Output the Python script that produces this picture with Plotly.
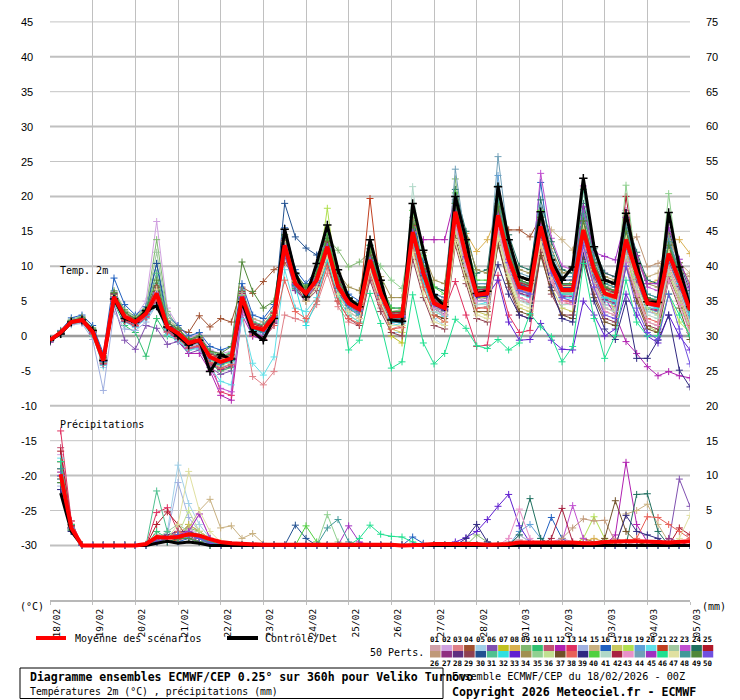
import plotly.graph_objects as go
import pandas as pd

# ---------------- data ----------------
DATE_LABELS_START = "2026-02-18 00:00"
DATE_END = "2026-03-05 00:00"

MEMBER_COLORS = [
    "#d0a0a8", "#d0a0e0", "#e08088", "#a05030", "#a0d0e8", "#8050b0", "#c0c020", "#d8b050", "#80b870", "#30c070",
    "#c05070", "#b020b0", "#e03060", "#a0b0e0", "#c8b080", "#2060c0", "#c8c860", "#b0e050", "#60a0d8", "#60e0e8",
    "#c04020", "#a0c8a0", "#c050d0", "#207060", "#b01828", "#c09878", "#903080", "#603080", "#904050", "#205090",
    "#50c090", "#30e0e0", "#6020d0", "#a09050", "#90d090", "#c0e090", "#705028", "#e86058", "#302880", "#50d040",
    "#b0d8c8", "#a82040", "#e890c8", "#70a0b8", "#a030c0", "#20e090", "#e0e0a0", "#409898", "#508838", "#7050e0",
]

TEMP_MEAN = [-0.6, 0.5, 2.0, 2.3, 0.6, -3.5, 5.6, 2.8, 2.0, 3.2, 6.1, 1.3,
             0.4, -1.0, -0.6, -3.0, -3.7, -3.2, 5.6, 1.3, 0.9, 2.8, 13.0, 7.5,
             6.1, 8.0, 12.8, 7.1, 4.7, 3.8, 10.9, 6.1, 2.8, 2.9, 14.9, 9.0,
             4.7, 4.0, 17.8, 11.4, 5.9, 6.1, 17.3, 11.0, 7.0, 6.6, 15.7, 9.9,
             6.6, 6.6, 15.2, 9.5, 6.1, 5.6, 13.8, 9.0, 4.7, 4.4, 11.8, 8.0, 3.7]
TEMP_CTRL = [-0.6, 0.3, 2.0, 2.3, 0.8, -3.5, 5.3, 2.5, 2.0, 3.6, 4.3, 1.3,
             0.0, -1.3, -0.6, -5.1, -2.7, -3.3, 4.9, 0.6, -0.6, 2.5, 15.3, 9.0,
             5.6, 10.4, 15.9, 9.5, 5.4, 4.2, 13.8, 8.0, 2.3, 2.1, 19.0, 12.3,
             5.9, 4.2, 20.0, 13.8, 6.1, 6.4, 21.4, 13.8, 8.5, 8.0, 17.8, 10.9,
             8.0, 9.9, 22.6, 12.8, 8.0, 7.5, 17.6, 10.4, 4.9, 4.8, 17.7, 9.9, 4.2]

T01 = [-0.8, 0.4, 2.1, 2.5, 0.8, -3.0, 5.9, 3.0, 2.2, 3.5, 6.8, 1.5,
       0.2, -1.2, -0.4, -2.6, -3.1, -2.5, 6.2, 1.8, 1.2, 3.4, 14.2, 8.2,
       6.5, 8.4, 13.5, 7.6, 5.0, 4.1, 11.8, 6.6, 3.0, 3.2, 16.0, 9.6,
       5.2, 4.3, 18.9, 12.0, 6.2, 6.4, 18.5, 11.8, 7.5, 7.0, 17.0, 10.5,
       7.0, 7.2, 16.0, 10.2, 6.8, 6.0, 15.0, 9.8, 5.2, 4.8, 12.8, 8.6, 4.5]
T02 = [-0.5, 0.6, 2.3, 2.6, 1.0, -2.8, 6.4, 3.6, 2.8, 5.0, 16.4, 4.0,
       1.5, -0.2, 0.3, -2.0, -2.5, -2.2, 6.8, 2.4, 2.0, 4.0, 12.0, 6.8,
       5.5, 7.2, 11.5, 6.5, 4.0, 3.2, 9.8, 5.4, 2.0, 2.2, 13.5, 8.0,
       4.0, 3.5, 16.5, 10.2, 5.0, 5.5, 16.0, 10.0, 6.2, 5.8, 14.5, 9.0,
       5.8, 6.0, 14.0, 8.8, 5.5, 5.0, 12.5, 8.2, 4.0, 3.8, 10.5, 7.2, 3.0]
T03 = [-0.7, 0.5, 2.0, 2.2, 0.4, -4.0, 5.2, 2.5, 1.8, 3.0, 5.5, 0.8,
       -0.2, -1.8, -1.5, -4.0, -5.0, -4.5, 3.5, -5.8, -7.0, -5.1, 3.0, 2.5,
       2.0, 4.5, 9.0, 4.2, 2.0, 1.5, 8.5, 4.0, 1.0, 1.5, 12.5, 7.0,
       3.0, 2.5, 15.5, 9.5, 4.0, 4.2, 15.0, 9.2, 5.0, 4.8, 14.0, 8.5,
       4.5, 4.8, 13.5, 8.0, 4.5, 4.2, 12.0, 7.8, 3.5, 3.2, 10.0, 6.5, 2.0]
T04 = [-0.6, 0.5, 2.2, 2.4, 0.7, -3.2, 5.8, 3.2, 2.5, 3.8, 7.0, 2.0,
       1.0, 0.5, 2.9, 1.3, 2.5, 2.0, 7.0, 6.1, 7.8, 9.5, 10.5, 8.5,
       7.0, 8.5, 12.0, 7.5, 5.5, 4.5, 11.0, 6.5, 3.5, 3.5, 15.5, 9.5,
       5.0, 4.5, 18.0, 11.5, 6.5, 6.5, 17.5, 15.2, 15.2, 14.2, 17.0, 10.0,
       6.5, 6.5, 15.0, 9.5, 6.0, 5.5, 13.5, 9.5, 5.5, 5.0, 12.0, 8.5, 4.0]
T05 = [-0.9, 0.3, 1.8, 2.0, 0.2, -4.5, 5.0, 2.2, 1.5, 2.8, 5.8, 1.0,
       0.0, -1.5, -1.0, -3.5, -4.5, -4.0, 5.0, 0.8, 0.0, 2.0, 12.0, 7.0,
       5.5, 7.5, 12.5, 6.8, 4.2, 3.0, 10.0, 5.5, 0.5, 0.5, 13.0, 8.0,
       2.5, 1.5, 16.0, 10.5, 5.0, 5.0, 16.5, 10.0, 5.5, 4.5, 14.5, 9.0,
       5.0, 5.5, 14.5, 8.5, 4.5, 4.0, 12.5, 8.0, 3.5, 3.0, 11.0, 7.0, 2.5]
T06 = [-0.5, 0.5, 1.9, 2.1, 0.3, -3.8, 4.5, -0.6, -1.9, 1.5, 1.1, -1.2,
       -0.8, -2.5, -2.0, -4.5, -5.5, -5.0, 4.0, 0.0, -0.5, 1.5, 11.5, 6.5,
       5.0, 7.0, 12.0, 6.0, 3.5, 2.5, 10.5, 5.8, 2.0, 2.5, 14.5, 8.5,
       4.0, 3.0, 17.5, 11.0, 5.5, 5.5, 17.0, 10.5, 6.5, 6.0, 15.5, 9.5,
       6.0, 6.0, 15.0, 9.0, 5.5, 5.0, 13.5, 9.0, 4.5, 4.0, 11.5, 7.5, 3.5]
T07 = [-0.6, 0.6, 2.0, 2.4, 0.6, -3.3, 5.5, 2.8, 2.0, 3.3, 6.5, 1.5,
       0.5, -0.8, -0.5, -2.8, -3.5, -3.0, 5.5, 1.5, 1.0, 3.0, 13.5, 7.8,
       6.2, 8.2, 13.2, 7.4, 4.8, 3.8, 11.2, 6.2, 0.0, -1.0, 14.0, 8.5,
       4.0, 3.0, 17.0, 10.8, 5.5, 5.8, 17.2, 11.0, 7.0, 6.5, 15.5, 9.8,
       6.5, 6.5, 15.0, 9.5, 6.0, 5.5, 14.0, 9.0, 4.8, 4.5, 11.8, 8.0, 3.8]
T08 = [-0.7, 0.4, 2.1, 2.3, 0.5, -3.6, 5.6, 2.7, 2.1, 3.1, 6.0, 1.2,
       0.3, -1.0, -0.7, -3.1, -3.8, -3.4, 5.5, 1.2, 0.8, 2.7, 13.2, 7.6,
       6.0, 8.0, 12.6, 7.0, 4.6, 3.8, 10.8, 6.0, 2.8, 3.0, 15.2, 9.2,
       4.8, 4.2, 18.0, 14.7, 12.1, 13.8, 17.6, 11.2, 7.2, 6.8, 16.0, 10.2,
       6.8, 8.0, 16.5, 10.5, 7.0, 7.5, 15.5, 11.0, 7.5, 8.0, 14.0, 13.8, 11.8]
T09 = [-0.4, 0.7, 2.4, 2.8, 1.2, -2.8, 6.5, 3.8, 2.8, 4.0, 13.8, 3.5,
       1.2, -0.5, 0.0, -2.2, -2.8, -2.4, 6.5, 2.0, 1.5, 3.5, 14.5, 8.8,
       7.0, 9.0, 14.0, 12.3, 9.9, 10.6, 12.0, 7.0, 3.5, 3.5, 16.5, 10.0,
       5.5, 5.0, 22.5, 12.5, 7.0, 7.0, 19.0, 12.2, 8.0, 7.5, 17.5, 11.0,
       7.5, 7.5, 17.0, 10.5, 7.0, 6.5, 15.5, 10.0, 5.5, 5.0, 13.5, 9.0, 5.0]
T10 = [-0.8, 0.2, 1.7, 2.0, 0.0, -4.2, 4.8, 1.5, 0.5, -2.9, 2.5, 0.0,
       -0.5, -2.0, -1.5, -4.0, -5.0, -4.5, 4.5, 0.5, 0.0, 2.0, 12.0, 6.8,
       5.5, 7.5, 12.0, 6.5, 4.0, 3.0, 10.0, 5.5, 2.0, 2.0, 14.0, 8.5,
       4.2, 3.5, 17.0, 11.0, 5.5, 5.5, 16.8, 10.8, 6.8, 6.2, 15.0, 9.5,
       6.2, 6.2, 14.8, 9.2, 5.8, 5.2, 13.5, 8.8, 4.5, 4.2, 11.5, 7.8, 3.5]
T11 = [-0.6, 0.5, 2.0, 2.3, 0.6, -3.4, 5.7, 2.9, 2.1, 3.3, 6.3, 1.4,
       0.5, -0.9, -0.5, -2.9, -3.6, -3.1, 5.8, 1.5, 1.0, 3.0, 13.2, 7.7,
       6.3, 8.2, 13.0, 7.3, 4.9, 4.0, 11.2, 6.3, 3.0, 3.1, 15.2, 9.2,
       4.9, 4.2, 18.0, 11.6, 6.1, 6.3, 17.5, 11.2, 7.2, 6.8, 15.9, 10.1,
       6.8, 6.8, 15.4, 9.7, 6.3, 5.8, 14.0, 9.2, 4.9, 4.6, 12.0, 8.2, 3.9]
T12 = [-0.9, 0.3, 1.8, 2.1, 0.3, -4.0, 5.0, 2.2, 1.5, 2.5, 5.0, 0.5,
       -0.5, -2.5, -2.5, -5.0, -8.5, -9.2, 3.0, 0.0, -0.5, 2.0, 12.5, 7.0,
       6.0, 8.0, 12.5, 7.0, 4.5, 3.5, 11.0, 6.0, 2.5, 2.5, 14.7, 13.8,
       13.8, 13.8, 20.0, 11.0, 5.5, 5.5, 17.0, 11.0, 6.5, 6.0, 15.0, 9.5,
       6.0, 6.0, 14.5, 9.0, 5.5, 3.0, -0.8, -2.5, -4.4, -5.7, -5.1, -5.7, -6.0]
T13 = [-0.7, 0.4, 1.9, 2.2, 0.5, -3.7, 5.3, 2.6, 1.8, 3.0, 5.8, 1.0,
       0.0, -1.3, -1.0, -3.5, -8.0, -8.5, 4.0, 1.0, 0.5, 2.5, 12.8, 7.2,
       5.8, 7.8, 12.5, 6.8, 4.4, 3.5, 10.5, 5.8, 2.5, 2.6, 14.5, 8.8,
       4.5, 3.8, 7.8, 3.0, -1.5, -1.3, 8.7, 3.0, 0.5, 0.8, 12.0, 7.5,
       5.0, 5.0, 13.0, 8.0, 5.0, 4.5, 12.5, 8.0, 4.0, 3.8, 10.5, 7.0, 3.0]
T14 = [-0.8, 0.2, 1.6, 1.8, -0.5, -7.8, 3.5, 1.0, 0.8, 2.0, 4.5, 0.5,
       -0.2, -1.5, -1.2, -3.6, -4.5, -4.0, 4.8, 0.8, 0.2, 2.2, 12.2, 7.0,
       5.8, 7.6, 12.2, 6.6, 4.2, 3.2, 10.2, 5.6, 2.2, 2.2, 14.0, 8.4,
       4.2, 3.6, 17.2, 10.8, 5.4, 5.6, 16.8, 10.6, 6.6, 6.2, 15.2, 9.4,
       6.2, 6.0, 14.6, 9.0, 5.6, 5.2, 13.2, 8.6, 4.4, 4.0, 11.2, 7.6, 3.4]
T15 = [-0.5, 0.6, 2.1, 2.4, 0.8, -3.0, 6.0, 3.2, 2.5, 3.8, 9.0, 2.5,
       1.0, -0.5, 0.0, -2.5, -3.0, -2.5, 6.5, 2.5, 2.0, 4.0, 14.0, 8.5,
       7.0, 9.0, 13.8, 8.0, 5.5, 4.5, 12.0, 7.0, 3.5, 3.8, 16.0, 10.0,
       5.5, 5.0, 19.0, 12.5, 7.0, 7.0, 18.5, 12.0, 8.0, 7.5, 17.0, 15.2,
       13.8, 12.3, 16.5, 10.5, 7.0, 7.0, 15.0, 10.5, 8.5, 9.0, 14.0, 10.5, 9.0]
T16 = [-0.4, 0.8, 2.6, 3.0, 1.5, -2.5, 8.3, 4.5, 3.0, 4.2, 10.4, 3.0,
       1.5, 0.0, 0.5, -1.5, -2.0, -1.5, 7.5, 3.0, 2.5, 4.5, 15.5, 9.5,
       7.5, 9.5, 14.5, 8.5, 6.0, 5.0, 13.0, 7.5, 4.0, 4.0, 17.0, 10.5,
       6.0, 5.5, 19.5, 12.5, 7.5, 7.5, 19.0, 12.5, 8.5, 8.0, 22.0, 11.0,
       7.5, 7.5, 16.5, 10.5, 7.0, 6.5, 15.0, 10.0, 5.5, 5.0, 13.0, 9.0, 5.0]
T17 = [-0.6, 0.5, 2.0, 2.3, 0.6, -3.5, 5.6, 2.8, 2.0, 3.2, 6.1, 1.3,
       0.4, -1.0, -0.6, -3.0, -3.7, -3.2, 5.6, 1.3, 0.9, 2.8, 13.0, 7.5,
       5.0, 7.0, 11.0, 5.5, 3.0, 2.0, 9.0, 4.5, 1.0, 0.5, 12.5, 7.0,
       3.0, 2.0, 15.0, 9.0, 3.5, 3.0, 14.5, 8.0, 4.0, 3.5, 13.0, 7.0,
       4.0, 3.5, 12.5, 7.0, 3.5, 3.0, 11.5, 6.5, 2.0, 1.5, 9.0, 5.5, 1.0]
T18 = [-0.7, 0.4, 1.9, 2.2, 0.4, -3.8, 5.2, 2.4, 1.8, 2.9, 5.6, 1.0,
       0.2, -1.2, -0.9, -3.4, -4.2, -3.7, 5.0, 1.0, 0.5, 2.4, 12.5, 7.0,
       5.8, 7.6, 18.3, 6.7, 4.3, 3.4, 10.4, 5.7, 2.4, 2.5, 14.3, 8.5,
       4.3, 3.6, 17.0, 10.8, 5.4, 5.6, 16.7, 10.5, 6.5, 6.0, 15.0, 9.3,
       6.0, 6.0, 14.5, 9.0, 7.5, 3.0, 12.0, 5.5, 1.5, 0.5, 6.0, 2.0, 0.5]
T19 = [-0.6, 0.6, 2.2, 2.5, 0.9, -3.0, 6.0, 3.1, 2.3, 3.6, 7.5, 1.8,
       0.7, -0.7, -0.3, -2.6, -3.2, -2.8, 6.2, 1.8, 1.4, 3.3, 13.8, 8.0,
       6.6, 8.5, 13.4, 7.6, 5.1, 4.2, 11.6, 6.6, 3.2, 3.3, 15.6, 9.6,
       5.2, 4.5, 18.5, 12.0, 6.5, 6.6, 23.0, 11.6, 7.5, 7.0, 16.4, 10.4,
       7.0, 7.0, 15.8, 10.0, 6.5, 6.0, 14.5, 9.5, 5.2, 4.8, 12.5, 8.5, 4.2]
T20 = [-0.8, 0.3, 1.8, 2.0, 0.2, -4.2, 4.8, 2.0, 1.2, 2.5, 4.5, 0.2,
       -0.6, -2.0, -1.8, -4.5, -6.5, -7.0, 2.5, -3.9, -5.6, -3.0, 9.5, 4.0,
       3.5, 5.5, 10.5, 5.5, 3.0, 2.0, 9.0, 4.5, 1.5, 1.8, 13.0, 7.5,
       3.5, 2.8, 16.0, 10.0, 4.5, 4.8, 16.0, 10.0, 6.0, 5.5, 14.5, 9.0,
       5.5, 5.5, 14.0, 8.5, 5.0, 4.5, 12.5, 8.0, 3.8, 3.5, 10.5, 7.0, 2.5]
T21 = [-0.5, 0.6, 2.1, 2.4, 0.7, -3.3, 5.8, 3.0, 2.2, 3.4, 6.6, 1.6,
       0.6, -0.8, -0.4, -2.8, -3.4, -2.9, 6.0, 1.6, 1.2, 3.1, 13.6, 7.9,
       6.4, 8.4, 13.5, 7.6, 5.0, 4.1, 19.7, 6.5, 3.1, 3.2, 15.5, 9.5,
       5.0, 4.3, 18.4, 11.9, 6.3, 6.4, 18.0, 11.5, 7.4, 7.0, 16.3, 10.3,
       7.0, 7.0, 15.8, 10.0, 6.4, 6.0, 14.5, 9.5, 5.0, 4.6, 12.4, 8.5, 4.0]
T22 = [-0.5, 0.7, 2.3, 2.7, 1.1, -2.9, 6.3, 3.6, 2.7, 3.9, 12.0, 3.0,
       1.0, -0.6, -0.1, -2.3, -3.0, -2.5, 6.3, 2.0, 1.6, 3.6, 14.3, 8.6,
       6.8, 8.8, 13.8, 7.9, 5.4, 4.4, 11.8, 6.8, 3.3, 3.4, 16.2, 9.8,
       5.4, 4.8, 19.2, 12.3, 6.8, 6.8, 18.8, 12.0, 7.8, 7.4, 17.2, 10.8,
       7.3, 7.3, 16.8, 10.3, 6.8, 6.4, 15.2, 9.9, 5.4, 5.0, 13.2, 9.0, 4.8]
T23 = [-0.7, 0.4, 1.9, 2.1, 0.4, -3.9, 5.1, 2.3, 1.6, 2.8, 5.4, 0.7,
       -0.2, -1.8, -1.6, -4.5, -7.5, -8.0, 4.0, 0.5, 0.0, 2.2, 12.4, 7.0,
       5.6, 7.5, 12.2, 6.6, 4.2, 3.3, 10.3, 5.6, 2.3, 2.4, 14.2, 8.5,
       4.3, 3.6, 17.2, 11.0, 5.6, 5.7, 17.0, 10.6, 6.6, 6.2, 23.3, 14.0,
       10.0, 9.5, 21.5, 12.0, 9.0, 8.5, 18.0, 11.5, 7.0, 6.5, 15.0, 10.0, 6.0]
T24 = [-0.6, 0.5, 2.0, 2.3, 0.6, -3.4, 5.6, 2.9, 2.0, 3.3, 6.4, 1.4,
       0.5, -0.9, -0.5, -2.9, -3.6, -3.1, 5.8, 1.4, 1.0, 2.9, 13.2, 7.7,
       6.2, 8.2, 13.0, 7.2, 4.8, 3.9, 11.1, 6.2, 2.9, 3.0, 15.1, 9.1,
       7.0, 6.5, 21.0, 15.0, 9.0, 9.5, 21.5, 14.5, 10.0, 9.5, 19.5, 13.5,
       9.5, 9.0, 19.0, 12.5, 9.0, 8.5, 17.0, 12.0, 8.0, 7.5, 15.0, 10.5, 6.5]
T25 = [-0.5, 0.6, 2.2, 2.5, 0.9, -3.1, 6.1, 3.3, 2.4, 3.6, 7.2, 1.8,
       0.8, -0.6, -0.2, -2.5, -3.0, -2.6, 6.4, 1.9, 1.5, 3.4, 14.0, 8.3,
       6.7, 8.6, 13.7, 7.8, 5.2, 4.3, 11.9, 6.8, 3.4, 3.5, 16.2, 9.9,
       5.4, 4.7, 19.0, 12.2, 6.7, 6.8, 18.7, 11.9, 7.7, 7.3, 17.0, 10.8,
       7.3, 7.4, 16.4, 10.4, 6.9, 6.4, 20.0, 9.9, 5.4, 5.1, 13.1, 9.0, 4.6]
T26 = [-0.7, 0.4, 1.9, 2.2, 0.5, -3.6, 5.4, 2.7, 1.9, 3.1, 5.9, 1.2,
       0.3, -1.1, -0.7, -3.1, -3.9, -3.4, 5.4, 1.1, 0.7, 2.6, 12.7, 7.3,
       5.9, 7.8, 12.5, 6.9, 4.5, 3.6, 10.6, 5.9, 2.6, 2.7, 14.6, 8.8,
       4.5, 3.8, 17.4, 11.1, 5.7, 5.8, 16.9, 10.7, 6.7, 6.3, 15.3, 9.6,
       6.3, 6.3, 14.8, 9.2, 5.8, 5.3, 13.4, 14.2, 9.9, 10.4, 11.5, 9.5, 8.5]
T27 = [-0.8, 0.3, 1.8, 2.0, 0.3, -4.0, 5.0, 2.1, 1.4, 2.7, 5.2, 0.6,
       -0.3, -1.7, -1.4, -3.9, -4.8, -4.3, 4.6, 0.4, -0.1, 1.8, 12.0, 6.6,
       5.3, 7.2, 11.8, 6.3, 3.9, 3.0, 9.8, 5.2, 1.9, 2.0, 13.6, 8.0,
       3.9, 3.1, 16.6, 10.4, 5.0, 5.1, 16.2, 10.1, 6.1, 5.7, 14.6, 8.9,
       5.7, 5.7, 14.2, 8.6, 5.2, 4.7, 12.8, 8.1, 3.9, 3.6, 10.8, 7.1, 2.9]
T28 = [-0.6, 0.5, 2.1, 2.4, 0.7, -3.3, 5.8, 3.0, 2.1, 3.4, 6.6, 1.5,
       0.5, -0.9, -0.4, -2.8, -3.5, -3.0, 5.9, 1.5, 1.1, 3.0, 13.4, 7.8,
       6.3, 8.3, 13.2, 7.4, 4.9, 4.0, 11.3, 6.4, 3.0, 3.1, 15.4, 9.3,
       5.0, 4.2, 18.3, 11.8, 6.2, 6.4, 17.8, 11.3, 7.3, 6.9, 16.2, 10.2,
       6.9, 6.9, 15.6, 9.8, 6.3, 5.8, 14.2, 9.3, 5.0, 4.6, 12.2, 8.3, 4.0]
T29 = [-0.6, 0.5, 2.0, 2.3, 0.6, -3.5, 5.5, 2.8, 2.0, 3.2, 6.0, 1.3,
       0.4, -1.0, -0.6, -3.0, -3.8, -3.3, 5.5, 1.2, 0.8, 2.8, 12.8, 7.4,
       5.0, 6.5, 10.5, 5.0, 2.5, 1.5, 8.0, 3.5, 0.5, 0.0, 11.0, 5.5,
       1.5, 1.0, 13.0, 7.5, 2.5, 2.0, 13.5, 7.0, 3.0, 2.5, 12.0, 6.0,
       3.0, 3.0, 11.0, 6.0, 2.5, 2.0, 10.5, 5.5, 1.5, 1.0, 8.5, 5.0, 0.5]
T30 = [-0.6, 0.5, 2.1, 2.4, 0.7, -3.3, 6.0, 3.0, 2.2, 3.5, 10.4, 2.0,
       0.6, -0.8, -0.4, -2.7, -3.3, -2.9, 6.0, 1.6, 1.2, 3.1, 19.0, 14.2,
       12.6, 11.6, 14.0, 8.0, 5.5, 4.5, 12.5, 7.0, 3.5, 3.5, 16.5, 10.0,
       5.5, 5.0, 19.0, 12.0, 6.5, 6.5, 18.5, 11.5, 7.5, 7.0, 16.5, 10.5,
       7.0, 7.0, 16.0, 10.0, 6.5, 6.0, 14.5, 9.5, 5.0, 4.5, 12.5, 8.5, 4.0]
T31 = [-0.5, 0.6, 2.2, 2.5, 0.9, -3.1, 6.2, 3.4, 2.5, 3.7, 9.0, 2.2,
       0.9, -0.5, -0.1, -2.4, -2.9, -2.5, 6.5, 2.0, 1.6, 3.5, 14.2, 8.5,
       6.8, 8.7, 13.8, 7.9, 5.3, 4.4, 12.0, 6.9, 3.5, 3.6, 16.3, 10.0,
       5.5, 4.8, 19.2, 12.3, 6.8, 6.9, 18.8, 12.0, 7.8, 7.4, 17.2, 10.9,
       7.4, 7.4, 21.0, 10.5, 7.0, 6.5, 15.2, 10.0, 5.5, 5.2, 13.2, 9.1, 4.7]
T32 = [-0.7, 0.4, 1.9, 2.2, 0.5, -3.7, 5.3, 2.5, 1.8, 3.0, 5.6, 1.0,
       0.1, -1.3, -0.9, -3.3, -4.1, -3.6, 5.2, 0.9, 0.5, 2.5, 12.6, 7.1,
       1.5, 5.0, 11.0, 6.0, 4.0, 3.0, 10.0, 5.5, 2.0, 2.0, 13.5, 8.0,
       4.0, 3.0, 16.5, 10.5, 5.0, 5.0, 16.5, 10.5, 6.5, 6.0, 15.0, 9.0,
       6.0, 6.0, 14.5, 9.0, 5.5, 5.0, 13.0, 8.5, 4.0, 4.0, 11.0, 7.5, 3.0]
T33 = [-0.6, 0.5, 2.0, 2.3, 0.6, -3.5, 5.6, 2.8, 2.0, 3.2, 6.1, 1.3,
       0.3, -1.1, -0.7, -3.1, -3.8, -3.3, 5.4, 1.1, 0.7, 2.6, 12.8, 7.3,
       5.9, 7.8, 12.5, 6.9, 4.5, 3.6, 10.6, 5.9, 2.6, 2.7, 14.6, 8.8,
       4.5, 3.8, 17.4, 11.1, 5.7, 5.8, 8.0, 2.0, -0.6, -0.5, 1.8, -0.6,
       -1.9, -2.0, 5.0, 3.0, 0.0, 1.0, 6.0, 3.0, 0.0, -1.0, 3.0, 0.0, -2.0]
T34 = [-0.7, 0.4, 2.0, 2.2, 0.5, -3.6, 5.5, 2.7, 1.9, 3.1, 6.0, 1.2,
       0.3, -1.1, -0.7, -3.1, -3.8, -3.3, 5.5, 1.2, 0.8, 2.7, 12.9, 7.4,
       6.5, 8.5, 13.5, 9.0, 7.0, 6.5, 12.5, 8.5, 5.5, 5.5, 17.0, 12.0,
       8.0, 7.5, 19.5, 14.0, 9.5, 9.0, 19.0, 13.0, 9.5, 9.0, 18.0, 12.5,
       9.0, 9.5, 17.5, 12.0, 8.5, 8.0, 16.0, 11.5, 7.5, 7.0, 14.5, 10.5, 7.5]
T35 = [-0.5, 0.6, 2.1, 2.4, 0.8, -3.2, 5.9, 3.1, 2.3, 3.5, 7.0, 1.7,
       0.7, -0.7, -0.3, -2.6, -3.2, -2.7, 6.1, 1.7, 1.3, 3.2, 13.7, 8.1,
       6.5, 8.5, 13.5, 7.7, 5.2, 4.3, 12.0, 10.0, 8.0, 6.8, 15.8, 9.7,
       5.2, 4.5, 18.5, 12.0, 6.5, 6.6, 18.2, 11.6, 7.6, 7.1, 16.5, 10.4,
       7.1, 7.1, 16.0, 10.0, 6.6, 6.1, 21.6, 9.6, 5.2, 4.9, 20.4, 8.6, 4.3]
T36 = [-0.6, 0.5, 2.0, 2.3, 0.6, -3.4, 5.6, 2.8, 2.0, 3.2, 6.2, 1.3,
       0.4, -1.0, -0.6, -3.0, -3.7, -3.2, 5.6, 1.3, 0.9, 2.8, 13.0, 7.5,
       6.1, 8.0, 12.8, 7.1, 4.7, 3.8, 10.9, 6.1, 2.8, 2.9, 14.9, 9.0,
       4.7, 4.0, 17.8, 11.4, 5.9, 6.1, 17.3, 11.0, 7.0, 6.6, 15.7, 9.9,
       6.6, 6.6, 15.2, 9.5, 6.1, 5.6, 13.8, 7.0, 4.0, 3.0, 9.0, 5.0, 1.0]
T37 = [-0.6, 0.5, 2.1, 2.3, 0.7, -3.4, 5.7, 2.9, 2.1, 3.3, 6.3, 1.4,
       0.5, -0.9, -0.5, -2.9, -3.6, -3.1, 5.7, 1.4, 1.0, 2.9, 13.1, 7.6,
       6.2, 8.1, 12.9, 7.2, 4.8, 3.9, 11.0, 6.2, 2.9, 3.0, 15.0, 9.1,
       3.0, 2.5, 14.0, 8.5, 3.5, 3.5, 13.0, 7.5, 3.5, 3.0, 11.5, 6.5,
       3.0, 2.5, 11.0, 5.5, 2.0, 1.5, 10.0, 5.0, 1.0, 0.5, 8.0, 4.0, -0.5]
T38 = [-0.8, 0.3, 1.8, 2.1, 0.3, -3.9, 5.0, 2.2, 1.5, 2.7, 5.2, 0.6,
       -0.3, -1.7, -1.4, -3.8, -4.6, -4.1, 4.5, 0.2, -0.4, 1.5, 8.0, 3.5,
       2.5, 5.0, 10.0, 5.0, 2.5, 1.8, 9.0, 4.5, 1.0, 1.2, 13.0, 7.0,
       3.0, 2.0, 16.0, 9.5, 4.0, 4.0, 15.5, 9.5, 5.5, 5.0, 13.5, 8.0,
       5.0, 5.0, 13.0, 7.5, 4.0, 3.5, 11.5, 7.0, 2.5, 2.0, 9.5, 6.0, 1.5]
T39 = [-0.7, 0.4, 1.9, 2.2, 0.5, -3.6, 5.4, 2.7, 1.9, 3.1, 5.9, 1.1,
       0.2, -1.2, -0.8, -3.2, -4.0, -3.5, 5.3, 1.0, 0.6, 2.6, 12.7, 7.2,
       5.8, 7.7, 12.4, 6.8, 4.4, 3.5, 10.5, 5.8, 2.5, 2.6, 14.5, 8.7,
       4.4, 3.7, 17.3, 11.0, 5.6, 5.7, 10.2, 6.0, 3.0, 2.5, 14.0, 7.0,
       2.5, 2.0, 12.0, 5.0, 1.0, -0.5, 5.0, -3.2, -3.2, -0.6, 3.0, -4.9, -7.3]
T40 = [-0.6, 0.5, 2.0, 2.4, 0.7, -3.3, 5.7, 2.9, 2.1, 3.3, 6.5, 1.4,
       0.5, -0.9, -0.5, -2.9, -3.5, -3.0, 5.8, 1.5, 1.1, 3.0, 13.3, 7.8,
       7.0, 9.0, 14.5, 8.0, 5.5, 4.5, 13.0, 7.5, 4.0, 4.0, 18.0, 11.5,
       7.0, 6.0, 20.5, 13.5, 8.0, 8.0, 20.0, 13.0, 8.5, 8.0, 18.0, 11.5,
       6.8, 6.8, 15.5, 9.7, 6.3, 5.8, 14.1, 9.2, 4.9, 4.6, 12.1, 8.2, 3.9]
T41 = [-0.7, 0.4, 1.9, 2.2, 0.5, -3.6, 5.5, 2.7, 1.9, 3.1, 6.0, 1.2,
       0.3, -1.1, -0.7, -3.1, -3.8, -3.3, 5.5, 1.2, 0.8, 2.7, 12.8, 7.4,
       6.0, 7.9, 12.7, 7.0, 4.6, 3.7, 10.8, 6.0, 2.7, 2.8, 21.4, 8.9,
       3.5, 3.0, 15.5, 9.5, 4.5, 4.5, 15.0, 9.0, 5.0, 4.5, 13.5, 8.0,
       4.5, 4.5, 13.0, 7.5, 4.0, 3.5, 11.5, 7.0, 3.0, 2.5, 9.5, 6.0, 2.0]
T42 = [-0.5, 0.6, 2.1, 2.5, 0.8, -3.2, 6.0, 3.1, 2.3, 3.5, 7.0, 1.7,
       0.7, -0.7, -0.3, -2.6, -3.2, -2.7, 6.1, 1.7, 1.3, 3.2, 13.7, 8.1,
       6.5, 8.5, 13.5, 7.7, 5.2, 4.3, 11.6, 6.7, 3.3, 3.4, 15.8, 9.7,
       5.2, 4.5, 18.6, 12.0, 6.6, 6.7, 18.2, 11.6, 7.6, 7.2, 16.6, 10.5,
       7.2, 7.2, 16.0, 10.1, 6.7, 6.2, 14.7, 9.7, 5.3, 4.9, 12.7, 8.7, 4.4]
T43 = [-0.6, 0.5, 2.0, 2.3, 0.6, -3.5, 5.6, 2.8, 2.0, 3.2, 6.1, 1.3,
       0.4, -1.0, -0.6, -3.0, -3.7, -3.2, 5.6, 1.3, 0.9, 2.8, 13.0, 7.5,
       6.1, 8.0, 12.8, 7.1, 4.7, 3.8, 10.9, 6.1, 2.8, 2.9, 14.9, 9.0,
       4.0, 3.0, 16.0, 10.0, 5.0, 5.0, 15.5, 9.5, 5.5, 5.0, 13.5, 8.0,
       5.0, 4.5, 12.5, 7.0, 3.5, 3.0, 10.5, 6.0, 2.0, 1.5, 8.0, 4.5, 0.5]
T44 = [-0.7, 0.4, 2.0, 2.2, 0.5, -3.6, 5.5, 2.7, 1.9, 3.1, 6.0, 1.2,
       0.3, -1.1, -0.7, -3.1, -3.8, -3.3, 5.5, 1.2, 0.8, 2.7, 12.8, 7.4,
       6.0, 7.9, 12.7, 7.0, 4.6, 3.7, 10.8, 6.0, 2.7, 2.8, 14.8, 8.9,
       6.0, 5.5, 23.9, 13.0, 7.5, 7.5, 25.7, 13.5, 9.0, 8.5, 18.5, 12.0,
       8.5, 8.5, 18.0, 11.0, 7.5, 7.0, 16.0, 10.5, 6.0, 5.5, 14.0, 9.5, 5.0]
T45 = [-0.6, 0.5, 2.0, 2.3, 0.6, -3.4, 5.6, 2.8, 2.0, 3.2, 6.2, 1.3,
       0.4, -1.0, -0.6, -3.0, -3.7, -3.2, 5.6, 1.3, 0.9, 2.8, 13.0, 7.5,
       6.1, 8.0, 12.8, 7.1, 4.7, 3.8, 10.9, 6.1, 2.8, 2.9, 14.9, 9.0,
       4.7, 4.0, 17.8, 11.4, 5.9, 6.1, 17.3, 11.0, 7.0, 6.6, 15.7, 9.9,
       8.0, 8.0, 18.5, 12.0, 11.4, 10.9, 17.0, 11.5, 7.5, 7.5, 15.5, 11.0, 7.0]
T46 = [-0.7, 0.4, 1.9, 2.2, 0.5, -3.6, 5.5, 2.7, 1.9, 3.1, 6.0, 1.2,
       0.3, -1.1, -0.7, -3.1, -3.8, -3.3, 5.5, 1.2, 0.8, 2.7, 12.8, 7.4,
       6.0, 7.9, 12.7, 7.0, -2.0, -0.6, 6.1, 1.8, -4.6, -3.7, 5.9, -1.0,
       -4.0, -2.5, 2.4, 1.1, -1.4, -1.8, -0.5, -2.0, -1.0, 3.2, 1.3, -0.1,
       -3.7, -1.5, 10.4, 2.5, -3.2, 0.1, 8.0, 2.0, 0.0, 0.0, 6.0, 3.0, 0.0]
T47 = [-0.6, 0.5, 2.1, 2.4, 0.7, -3.3, 5.8, 3.0, 2.2, 3.4, 6.7, 1.5,
       0.5, -0.9, -0.4, -2.8, -3.4, -2.9, 5.9, 1.5, 1.1, 3.1, 13.5, 7.9,
       5.0, 7.0, 11.5, 6.0, 3.5, 2.5, 9.5, 5.0, 1.5, 1.5, 12.0, 6.0,
       2.0, 1.5, 13.5, 8.0, 3.0, 2.5, 14.0, 8.5, 4.5, 4.0, 13.5, 8.5,
       7.1, 7.1, 15.9, 9.9, 6.4, 5.9, 14.5, 9.4, 5.0, 4.7, 12.4, 8.4, 4.1]
T48 = [-0.7, 0.4, 1.9, 2.2, 0.5, -3.7, 5.4, 2.6, 1.8, 3.0, 5.8, 1.1,
       0.2, -1.2, -0.8, -3.2, -4.0, -3.5, 5.3, 1.0, 0.6, 2.5, 12.6, 7.2,
       5.8, 7.7, 12.4, 6.8, 4.4, 3.5, 10.5, 5.8, 2.5, 2.6, 14.4, 8.6,
       5.5, 5.0, 19.0, 12.5, 7.0, 7.0, 19.5, 12.5, 8.0, 7.5, 17.5, 11.5,
       8.0, 8.0, 17.5, 11.5, 7.5, 7.0, 15.5, 10.5, 6.0, 5.5, 13.5, 9.5, 5.5]
T49 = [-0.5, 0.6, 2.2, 2.6, 1.0, -3.0, 6.2, 3.4, 2.5, 3.8, 8.0, 2.0,
       1.0, -0.5, 0.0, -2.2, -2.5, -1.5, 10.6, 6.4, 4.0, 5.0, 14.5, 9.0,
       7.0, 9.0, 14.0, 8.0, 5.5, 4.5, 12.0, 7.0, 3.5, 3.5, 16.0, 10.0,
       5.5, 4.8, 19.0, 12.5, 7.0, 7.0, 18.5, 12.0, 8.0, 7.5, 17.0, 11.0,
       7.5, 7.5, 16.5, 10.5, 7.0, 6.5, 15.0, 10.0, 5.5, 5.0, 13.0, 9.0, 4.5]
T50 = [-0.7, 0.4, 1.9, 2.2, 0.5, -3.6, 5.5, 2.7, 1.9, 3.1, 6.0, 1.2,
       0.3, -1.1, -0.7, -3.1, -3.8, -3.3, 5.5, 1.2, 0.8, 2.7, 12.8, 7.4,
       6.0, 7.9, 12.7, 7.0, 4.6, 3.7, 10.8, 6.0, 2.7, 2.8, 14.8, 8.9,
       4.6, 3.9, 17.6, 11.3, 5.8, 6.0, 17.0, 10.5, 6.5, 6.0, 15.0, 9.0,
       5.5, 5.0, 13.0, 7.0, 3.0, 2.5, 10.0, 4.0, 0.5, -0.5, 6.0, 1.0, -4.0]

# precipitation (mm per 6 h), from +6h to +360h
PRECIP_MEAN = [10.2, 2.5, 0, 0, 0, 0, 0, 0, 0.2, 1.2,
               1.1, 1.2, 1.6, 1.4, 0.9, 0.5, 0.3, 0.2, 0.2, 0.1,
               0.1, 0.1, 0.2, 0.2, 0.2, 0.2, 0.1, 0.1, 0.2, 0.2,
               0.1, 0.1, 0, 0, 0.1, 0.2, 0.2, 0.2, 0.3, 0.2,
               0.1, 0.1, 0.2, 0.4, 0.4, 0.4, 0.4, 0.5, 0.4, 0.3,
               0.3, 0.5, 0.6, 0.6, 0.6, 0.6, 0.5, 0.4, 0.5, 0.6]
PRECIP_CTRL = [7.5, 2.0, 0, 0, 0, 0, 0, 0, 0, 0.3,
               0.6, 0.3, 0.5, 0.3, 0, 0, 0, 0, 0, 0,
               0, 0, 0, 0, 0, 0, 0, 0, 0, 0,
               0, 0, 0, 0, 0, 0, 0, 0, 0, 0,
               0, 0, 0, 0, 0, 0, 0, 0, 0, 0,
               0, 0, 0, 0, 0, 0, 0, 0, 0, 0]

P01 = [11, 2.5, 0, 0, 0, 0, 0, 0, 0.2, 1.0, 1.2, 1.5, 2.0, 1.0, 0.3, 0, 0, 0, 0, 0,
       0, 0, 0, 0, 0, 0, 0, 0, 0, 0, 0, 0, 0, 0, 0, 0, 0, 0.3, 0.5, 0,
       0, 0, 0.5, 0.8, 0.2, 0, 0, 0, 0, 0, 0, 0.5, 1.0, 0.5, 0, 0, 0, 0, 0, 0]
P02 = [13, 3.0, 0, 0, 0, 0, 0, 0, 0, 0.5, 2.0, 1.0, 2.5, 1.5, 0.5, 0, 0, 0, 0, 0,
       0, 0, 0, 0, 0, 0, 0, 0, 0, 0, 0, 0, 0, 0, 0, 0, 0, 0, 0, 0,
       0, 0, 0, 0, 0, 0, 0.5, 1.0, 0.5, 0.2, 0, 0, 0, 0, 0, 0, 0, 0, 0, 0]
P03 = [9, 2.0, 0, 0, 0, 0, 0, 0, 0, 1.5, 1.0, 0.8, 1.0, 0.5, 0, 0, 0, 0, 0, 0,
       0, 0, 0, 0, 0, 0, 0, 0, 0, 0, 0, 0, 0, 0, 0, 0, 0, 0, 0, 0,
       0, 0, 0, 1.5, 0.5, 0, 0, 0, 0, 0, 0, 0, 0, 0, 0, 0, 0.5, 0.3, 0, 0]
P04 = [12, 2.8, 0, 0, 0, 0, 0, 0, 0, 0.5, 0.5, 0.8, 3.0, 2.0, 1.0, 0, 0, 0, 0, 0,
       0, 0, 0, 0, 0, 0, 0, 0, 0, 0, 0, 0, 0, 0, 0, 0, 0, 0, 0, 0,
       0, 0, 0, 0, 0, 0, 0, 0, 0, 1.0, 0.5, 0, 0, 0, 0, 0, 0, 0, 0, 0]
P05 = [10, 2.5, 0, 0, 0, 0, 0, 0, 0, 0.5, 2.0, 11.5, 6.0, 3.0, 1.0, 0.5, 0, 0, 0, 0,
       0, 0, 0, 0, 0, 0, 0, 0, 0, 0, 0, 0, 0, 0, 0, 0, 0, 0, 0, 0,
       0, 0, 0, 1.5, 0.5, 0, 0, 0, 0, 0, 0, 0, 0, 0, 0, 0, 0, 0, 0, 0]
P06 = [8, 2.0, 0, 0, 0, 0, 0, 0, 0, 0.5, 1.0, 1.0, 1.5, 1.0, 0, 0, 0, 0, 0, 0,
       0, 0, 0, 0, 0, 0, 0, 0, 0, 0, 0, 0, 0, 0, 0, 0, 0, 0, 0, 0,
       0, 0, 0, 0, 0, 0, 0, 0, 0, 0, 0, 0, 0, 0, 0, 0, 0, 0.5, 9.5, 5.6]
P07 = [10, 2.5, 0, 0, 0, 0, 0, 0, 0, 0.8, 0.5, 1.0, 2.0, 1.5, 0.5, 0.2, 0, 0, 0, 0,
       0, 0, 0, 0, 0, 0, 0, 0, 0, 0, 0, 0, 0, 0, 0, 0, 0, 0, 0, 0,
       0, 0, 0, 0, 0, 0, 0, 0, 0, 0, 0, 0, 0, 0, 0, 0, 0, 0, 0, 0]
P08 = [11, 3.0, 0, 0, 0, 0, 0, 0, 0, 1.0, 1.5, 1.0, 1.0, 0.5, 0, 0, 0, 0, 0, 0,
       0, 0, 0, 0, 0, 0, 0, 0, 0, 0, 0, 0, 0, 0, 0, 0, 0, 0, 0, 0,
       0, 0, 0, 0, 0, 0, 0, 0, 0, 0.5, 1.0, 0.5, 0, 0, 0, 0, 0, 0.5, 0, 0]
P09 = [9.5, 2.2, 0, 0, 0, 0, 0, 0, 0, 0.5, 1.0, 1.5, 2.5, 2.0, 0.5, 0, 0, 0, 0, 0,
       0, 0, 0, 0, 0, 0, 0, 0, 0, 0, 0, 0, 0, 0, 0, 0, 0, 0, 0, 1.5,
       0.5, 0, 0, 0, 0, 0, 0, 0, 0, 0, 0, 0, 0, 0, 0, 0, 0, 0, 0, 0]
P10 = [12, 3.0, 0, 0, 0, 0, 0, 0, 0, 2.0, 1.0, 1.0, 1.5, 1.0, 0.5, 0, 0, 0, 0, 0,
       0, 0, 0, 0, 0, 0, 0, 0, 0, 0, 0, 0, 0, 0, 0, 0, 0, 0, 0, 0,
       0, 0, 0, 0, 0, 0, 0, 0, 0, 0, 0, 0, 0, 0, 0, 0.5, 0.3, 0, 0, 0]
P11 = [14, 3.5, 0, 0, 0, 0, 0, 0, 0, 1.0, 1.5, 2.0, 1.5, 1.0, 0.3, 0, 0, 0, 0, 0,
       0, 0, 0, 0, 0, 0, 0, 0, 0, 0, 0, 0, 0, 0, 0, 0, 0, 0, 0, 0,
       0, 0, 0, 0, 0, 0, 0, 0.5, 0, 0, 0, 0, 0, 0, 0, 0, 0, 0, 0, 0]
P12 = [10, 2.5, 0, 0, 0, 0, 0, 0, 0, 0.8, 1.0, 1.5, 2.0, 1.0, 0.5, 0, 0, 0, 0, 0,
       0, 0, 0, 0, 0, 0, 0, 0, 0, 0, 0, 0, 0, 0, 0, 0, 0, 0, 0, 0,
       0, 0, 0, 0, 0, 0, 0, 0, 0, 0, 0, 0, 1.5, 11.9, 3.0, 0.5, 0, 0, 0, 0]
P13 = [16.4, 3.5, 0, 0, 0, 0, 0, 0, 0, 4.7, 5.4, 2.0, 1.0, 0.5, 0, 0, 0, 0, 0, 0,
       0, 0, 0, 0, 0, 0, 0, 0, 0, 0, 0, 0, 0, 0, 0, 0, 0, 0, 0, 0,
       0, 0, 0, 0, 0, 0, 0, 0, 0, 0, 0, 0, 0, 0, 0, 0, 0, 0, 0, 0]
P14 = [8.5, 2.0, 0, 0, 0, 0, 0, 0, 0, 0.5, 1.5, 9.0, 4.0, 2.0, 0.5, 0, 0, 0, 0, 0,
       0, 0, 0, 0, 0, 0, 0, 0, 0, 0, 0, 0, 0, 0, 0, 0, 0, 0, 0, 0,
       0, 0, 0, 0, 0, 0, 0, 0, 0, 0, 0, 0, 0, 0, 0, 0, 0, 0, 0, 0]
P15 = [10.5, 2.5, 0, 0, 0, 0, 0, 0, 0, 0.5, 1.0, 1.5, 2.5, 5.0, 6.6, 2.5, 2.8, 1.0, 1.7, 0.3,
       0, 0, 0, 0, 0, 0, 0, 0, 0, 0, 0, 0, 0, 0, 0, 0, 0, 0, 0, 0,
       0, 0, 0, 0, 0, 0, 0, 0, 0, 0, 0, 0, 0, 4.5, 5.0, 5.9, 3.0, 0.5, 0, 0]
P16 = [9, 2.2, 0, 0, 0, 0, 0, 0, 0, 0.5, 0.5, 0.5, 1.0, 0.5, 0, 0, 0, 0, 0, 0,
       0, 0, 0, 0, 0, 0, 0, 0, 0, 0, 0, 0, 0, 1.2, 0.3, 0, 0, 0, 0, 0,
       0, 0, 0, 0, 0, 0, 4.0, 1.0, 0, 0, 0, 0, 0, 0, 0, 0, 0, 0, 0, 0]
P17 = [10, 2.5, 0, 0, 0, 0, 0, 0, 0, 1.0, 1.0, 1.5, 3.0, 2.0, 1.0, 0.5, 0, 0, 0, 0,
       0, 0, 0, 0, 0, 0, 0, 0, 0, 0, 0, 0, 0, 0, 0, 0, 0, 0, 0, 0,
       0, 0, 0, 0, 0, 0, 0, 0, 0, 0, 0, 0, 0, 0, 0, 0, 0, 0, 0, 0]
P18 = [11, 2.8, 0, 0, 0, 0, 0, 0, 0, 0.5, 1.0, 1.0, 1.5, 1.0, 0.5, 0, 0, 0, 0, 0,
       0, 0, 0, 0, 0, 0, 0, 0, 0, 0, 0, 0, 0, 0, 0, 0, 0, 0, 0, 0,
       0, 0, 0, 0, 0, 0, 0, 0, 0, 1.0, 4.1, 1.0, 0, 0, 0, 0, 0, 0, 0, 0]
P19 = [9, 2.0, 0, 0, 0, 0, 0, 0, 0, 0.5, 1.0, 1.5, 1.0, 0.5, 0, 0, 0, 0, 0, 0,
       0, 0, 0, 0, 0, 0, 0, 0, 0, 0, 0, 0, 0, 0, 0, 0, 0, 0, 0, 0,
       0, 0, 0, 2.0, 3.0, 1.0, 0, 0, 0, 0, 0, 0, 0, 0, 0, 0, 0, 0, 0, 0]
P20 = [12.5, 3.0, 0, 0, 0, 0, 0, 0, 0, 1.0, 1.0, 2.0, 1.5, 1.0, 0, 0, 0, 0, 0, 0,
       0, 0, 0, 0, 0, 0, 0, 0, 0, 0, 0, 0, 0, 0, 0, 0, 0, 0, 0, 0,
       0, 0, 0, 0, 0, 0, 0, 0, 0, 0, 0, 0, 0, 0, 0, 0, 0, 0, 0, 0]
P21 = [10, 2.5, 0, 0, 0, 0, 0, 0, 0, 0.5, 1.0, 1.0, 1.5, 1.0, 0.3, 0, 0, 0, 0, 0,
       0, 0, 0, 0, 0, 0, 0, 0, 0, 0, 0, 0, 0, 0, 0, 0, 0, 0, 0, 0,
       0, 0, 0, 0, 0, 0, 0, 0, 0, 0, 0, 0, 0, 0, 0, 0, 0, 0, 0, 0]
P22 = [11, 2.5, 0, 0, 0, 0, 0, 0, 0, 1.0, 2.0, 3.0, 2.0, 1.0, 0.5, 0, 0, 0, 0, 0,
       0, 0, 0, 0, 0, 0, 0, 0, 0, 0, 0, 0, 0, 0, 0, 0, 0, 0, 0, 0,
       0, 0, 0, 0, 0, 0, 0, 0, 0, 0, 0, 0, 0, 0, 0, 0, 0, 0, 0, 0]
P23 = [10, 2.5, 0, 0, 0, 0, 0, 0, 0, 0.5, 1.0, 1.5, 1.5, 1.0, 0.5, 0, 0, 0, 0, 0,
       0, 0, 0, 0, 0, 0, 0, 0, 0, 0, 0, 0, 0, 0, 0, 0, 0, 0, 0, 0,
       0, 0, 0, 0, 0, 0, 0, 0.5, 5.7, 1.0, 0, 0, 0, 0, 0, 0, 0, 0, 0, 0]
P24 = [9, 2.2, 0, 0, 0, 0, 0, 0, 0, 0.5, 0.5, 1.0, 1.5, 1.0, 0, 0, 0, 0, 0, 0,
       0, 0, 0, 0, 0, 0, 0, 0, 0, 0, 0, 0, 0, 0, 0, 0, 0, 0, 0, 0,
       0, 0, 0, 1.5, 6.7, 1.0, 0, 0, 0, 0, 0, 0, 0, 0, 7.3, 7.4, 2.0, 0, 0, 0]
P25 = [13.5, 3.0, 0, 0, 0, 0, 0, 0, 0, 3.0, 4.8, 3.0, 1.0, 0.5, 0, 0, 0, 0, 0, 0,
       0, 0, 0, 0, 0, 0, 0, 0, 0, 0, 0, 0, 0, 0, 0, 0, 0, 0, 0, 0,
       0, 0, 0, 0, 0, 0, 0, 0, 0, 0, 0, 0, 0, 0, 0, 0, 0, 0, 2.5, 1.5]
P26 = [10, 2.5, 0, 0, 0, 0, 0, 0, 0, 0.5, 1.0, 1.5, 2.0, 1.0, 0.5, 0, 0, 0, 0, 0,
       0, 0, 0, 0, 0, 0, 0, 0, 0, 0, 0, 0, 0, 0, 0, 0, 0, 0, 0, 0,
       0, 0, 0, 0, 0, 0, 0, 1.0, 2.5, 3.8, 3.5, 3.6, 0.5, 0, 0, 0, 0, 0, 0, 0]
P27 = [9.5, 2.2, 0, 0, 0, 0, 0, 0, 0, 0.5, 1.0, 1.0, 1.5, 0.5, 0, 0, 0, 0, 0, 0,
       0, 0, 0, 0, 0, 0, 0, 0, 0, 0, 0, 0, 0, 0, 0, 0, 0, 0, 0, 0,
       0, 0, 0, 0, 0, 0, 0, 0, 0, 0, 0, 0, 0, 0, 0, 0, 0, 1.0, 0.5, 0]
P28 = [11, 2.8, 0, 0, 0, 0, 0, 0, 0, 1.0, 1.5, 2.0, 2.0, 1.5, 0.5, 0, 0, 0, 0, 0,
       0, 0, 0, 0, 0, 0, 0, 0, 0, 0, 0, 0, 0, 0, 0, 0, 0, 0, 0, 0,
       0, 0, 0, 0, 0, 0, 0, 0, 0, 0, 0, 0, 0, 0, 0, 0, 0, 0, 0, 0]
P29 = [12, 3.0, 0, 0, 0, 0, 0, 0, 0, 0.5, 1.0, 1.0, 1.0, 0.5, 0, 0, 0, 0, 0, 0,
       0, 0, 0, 0, 0, 0, 0, 0, 0, 0, 0, 0, 0, 0, 0, 0, 0, 0, 0, 0,
       0, 0, 0, 0, 0, 0, 0, 0, 0, 0, 0, 0, 0, 0, 0, 0, 0, 0, 0, 0]
P30 = [10, 2.5, 0, 0, 0, 0, 0, 0, 0, 0.5, 1.0, 1.0, 1.5, 1.0, 0.5, 0, 0, 0, 0, 0,
       0, 0, 2.9, 1.0, 0, 0, 0, 0, 0, 0, 0, 0, 0, 0, 0, 0, 0, 0, 0, 0,
       0, 0, 0, 0, 0, 0, 0, 0, 0, 0, 0, 0, 0, 0, 0, 0, 0, 0, 0, 0]
P31 = [11, 2.5, 0, 0, 0, 0, 0, 0, 0, 7.8, 2.0, 1.0, 1.5, 1.0, 0.5, 0, 0, 0, 0, 0,
       0, 0, 0, 0, 0, 0, 0, 0, 0, 0, 0, 0, 0, 0, 0, 0, 0, 0, 0, 0,
       0, 0, 0, 0, 0, 0, 0, 0, 0, 0, 0, 0, 0, 0, 0, 0, 0, 0, 0, 0]
P32 = [9, 2.2, 0, 0, 0, 0, 0, 0, 0, 1.0, 1.0, 1.5, 1.0, 0.5, 0, 0, 0, 0, 0, 0,
       0, 0, 0, 0, 0, 0, 0, 0, 0, 0, 0, 0, 0, 0, 0, 0, 0, 0, 0, 0,
       0, 0, 0, 0, 0, 0, 0, 0, 0, 0, 0, 0, 0, 0, 0, 0, 0, 0, 0, 0]
P33 = [10, 2.5, 0, 0, 0, 0, 0, 0, 0, 0.5, 1.0, 1.5, 1.5, 1.0, 0.5, 0, 0, 0, 0, 0,
       0, 0, 0, 0, 0, 0, 0, 0, 0, 0, 0, 0, 0, 0, 0, 0, 0, 0.5, 1.1, 2.0,
       3.7, 5.6, 7.3, 2.8, 0.4, 0, 0, 0, 0, 0, 0, 0, 0, 0, 0, 0, 0, 0, 0, 0]
P34 = [10, 2.5, 0, 0, 0, 0, 0, 0, 0, 0.5, 1.0, 1.0, 1.5, 1.0, 0.5, 0, 0, 0, 0, 0,
       0, 0, 0, 0, 0, 0, 0, 0, 0, 0, 0, 0, 0, 0, 0, 0, 0, 0, 0, 0,
       0, 0, 0, 0, 0, 0, 0, 0, 0, 0, 0, 0, 0, 0, 0, 0, 0, 0, 0, 0]
P35 = [9.5, 2.2, 0, 0, 0, 0, 0, 0, 0, 0.5, 1.0, 1.0, 1.5, 1.0, 0.5, 0, 0, 0, 0, 0,
       0, 0, 0, 0, 0, 4.4, 0.5, 0, 0, 0, 0, 0, 0, 0, 0, 0, 0, 0, 0, 0,
       0, 0, 0, 0, 0, 0, 0, 0, 0, 0, 0, 0, 0, 0, 0, 0, 0, 0, 0, 0]
P36 = [11, 2.5, 0, 0, 0, 0, 0, 0, 0, 0.5, 1.0, 1.5, 5.0, 2.0, 0.5, 0, 0, 0, 0, 0,
       0, 0, 0, 0, 0, 0, 0, 0, 0, 0, 0, 0, 0, 0, 0, 0, 0, 0, 0, 0,
       0, 0, 0, 0, 0, 0, 0, 0, 0, 0, 0, 0, 0, 0, 0, 0, 0, 0, 0, 0]
P37 = [10, 2.5, 0, 0, 0, 0, 0, 0, 0, 0.5, 1.0, 1.0, 1.5, 1.0, 0.5, 0, 0, 0, 0, 0,
       0, 0, 0, 0, 0, 0, 0, 0, 0, 0, 0, 0, 0, 0, 0, 0, 0, 0, 0, 0,
       0, 0, 0, 0, 0, 0, 0, 0, 0, 0, 0, 1.0, 6.4, 2.0, 0.5, 0, 0, 0, 0, 0]
P38 = [12, 3.0, 0, 0, 0, 0, 0, 0, 0, 0.5, 1.0, 2.0, 1.5, 1.0, 0.5, 0, 0, 0, 0, 0,
       0, 0, 0, 0, 0, 0, 0, 0, 0, 0, 0, 0, 0, 0, 0, 0, 0, 0, 0, 0,
       0, 0, 0, 0, 0, 0, 0, 0, 0, 0, 0, 0, 0, 0, 1.0, 4.1, 4.0, 3.0, 2.0, 1.0]
P39 = [8, 2.0, 0, 0, 0, 0, 0, 0, 0, 0.5, 1.0, 1.0, 1.0, 0.5, 0, 0, 0, 0, 0, 0,
       0, 0, 0, 0, 0, 0, 0, 0, 0, 0, 0, 0, 0, 0, 0, 0, 0, 0, 1.0, 3.0,
       0.5, 0, 0, 0, 0, 0, 0, 0, 0, 0, 0, 0, 0, 4.3, 2.0, 1.5, 1.0, 0, 0, 0]
P40 = [10, 2.5, 0, 0, 0, 0, 0, 0, 0, 0.5, 1.0, 1.0, 1.5, 1.0, 0.5, 0, 0, 0, 0, 0,
       0, 0, 0, 2.8, 0.5, 0, 0, 0, 0, 0, 0, 0, 0, 0, 0, 0, 0, 0, 0, 0,
       0, 0, 0, 0, 0, 0, 0, 0, 0, 0, 0, 0, 0, 0, 0, 0, 0, 0, 0, 0]
P41 = [9, 2.2, 0, 0, 0, 0, 0, 0, 0, 0.5, 1.0, 1.0, 1.0, 0.5, 0, 0, 0, 0, 0, 0,
       0, 0, 0, 0, 0, 0, 0, 0, 0, 0, 0, 0, 0, 0, 0, 0, 0, 0, 0, 0,
       0, 0, 0, 0, 0, 0, 0, 0, 0, 0, 0, 0, 0, 0, 0, 0, 0, 0, 0, 0]
P42 = [11, 2.8, 0, 0, 0, 0, 0, 0, 0, 1.0, 1.0, 1.5, 1.5, 1.0, 0.5, 0, 0, 0, 0, 0,
       0, 0, 0, 0, 0, 0, 0, 0, 0, 0, 0, 0, 0, 0, 0, 0, 0, 0, 0, 0,
       0, 0, 0, 0, 0, 0, 1.0, 5.3, 0.5, 0, 0, 0, 0, 0, 0, 0, 0, 0, 0, 0]
P43 = [10, 2.5, 0, 0, 0, 0, 0, 0, 0, 0.5, 1.0, 1.5, 2.0, 4.5, 1.0, 0, 0, 0, 0, 0,
       0, 0, 0, 0, 0, 0, 0, 0, 0, 0, 0, 0, 0, 0, 0, 0, 0, 0, 0, 0,
       0, 0, 1.0, 5.2, 1.0, 0, 0, 0, 0, 0, 0, 0, 0, 0, 0, 0, 0, 0, 0, 0]
P44 = [9.5, 2.2, 0, 0, 0, 0, 0, 0, 0, 0.5, 1.0, 1.0, 1.5, 1.0, 0, 0, 0, 0, 0, 0,
       0, 0, 0, 0, 0, 0, 0, 0, 0, 0, 0, 0, 0, 0, 0, 0, 0, 0, 0, 0,
       0, 0, 0, 0, 0, 0, 0, 0, 0, 0, 0, 0, 0, 0, 0, 0, 0, 0, 0, 0]
P45 = [10.5, 2.5, 0, 0, 0, 0, 0, 0, 0, 0.5, 1.0, 1.5, 2.0, 4.5, 1.0, 0, 0, 0, 0, 0,
       0, 0, 0, 0, 0, 0, 0, 2.8, 0.5, 0, 0, 0, 0, 0, 0, 0, 0, 0, 0, 0,
       0, 0, 0, 0, 0, 0, 0, 0, 0, 0, 0, 0, 0, 0, 0, 0, 0, 0, 0, 0]
P46 = [12, 3.0, 0, 0, 0, 0, 0, 0, 0, 0.5, 1.0, 1.5, 1.5, 1.0, 0.5, 0, 0, 0, 0, 0,
       0, 0, 0, 0, 0, 0, 0, 0, 1.0, 2.9, 1.6, 1.3, 1.2, 0.5, 0, 0, 0, 0, 0, 0,
       0, 0, 0, 0, 0, 0, 0, 0, 0, 0, 0, 0, 0, 0, 0, 0, 0, 0, 0, 0]
P47 = [10, 2.5, 0, 0, 0, 0, 0, 0, 0, 0.5, 1.0, 3.0, 10.6, 5.0, 2.0, 0.5, 0, 0, 0, 0,
       0, 0, 0, 0, 0, 0, 0, 0, 0, 0, 0, 0, 0, 0, 0, 0, 0, 0, 0, 0,
       0, 0, 0, 0, 0, 0, 0, 0, 0, 0, 0, 0, 0, 0, 0, 0, 0, 0, 1.0, 4.3]
P48 = [11, 2.5, 0, 0, 0, 0, 0, 0, 0, 0.5, 1.0, 1.0, 1.5, 1.0, 0.5, 0, 0, 0, 0, 0,
       0, 0, 0, 0, 0, 2.5, 3.7, 0.5, 0, 0, 0, 0, 0, 0, 0, 0, 0, 0, 0, 0,
       0, 0, 0, 0, 0, 0, 0, 0, 0, 0, 0, 0, 0, 0, 0, 0, 0, 0, 0, 0]
P49 = [9, 2.2, 0, 0, 0, 0, 0, 0, 0, 0.5, 1.0, 1.0, 1.0, 0.5, 0, 0, 0, 0, 0, 0,
       0, 0, 0, 0, 0, 0, 0, 0, 0, 0, 0, 0, 0, 0, 0, 0, 0, 0, 0, 0,
       0, 0, 0, 0, 0, 0, 0, 0, 0, 0, 0, 0, 0, 0, 0, 0, 0, 0, 0, 0]
P50 = [10, 2.5, 0, 0, 0, 0, 0, 0, 0, 0.5, 1.0, 1.5, 1.5, 1.0, 0.3, 0, 0, 0, 0, 0,
       0, 0, 0, 0, 0, 0, 0, 0, 0, 0, 0, 0, 0, 0, 0, 0, 0, 0, 0, 0,
       0, 0, 0, 0, 0, 0, 0, 0, 0, 0, 0, 0, 0, 0, 0, 0, 0, 0, 0, 0]

TEMP_MEMBERS = [T01, T02, T03, T04, T05, T06, T07, T08, T09, T10, T11, T12, T13, T14, T15, T16, T17,
                T18, T19, T20, T21, T22, T23, T24, T25, T26, T27, T28, T29, T30, T31, T32, T33, T34,
                T35, T36, T37, T38, T39, T40, T41, T42, T43, T44, T45, T46, T47, T48, T49, T50]
PRECIP_MEMBERS = [P01, P02, P03, P04, P05, P06, P07, P08, P09, P10, P11, P12, P13, P14, P15, P16, P17,
                  P18, P19, P20, P21, P22, P23, P24, P25, P26, P27, P28, P29, P30, P31, P32, P33, P34,
                  P35, P36, P37, P38, P39, P40, P41, P42, P43, P44, P45, P46, P47, P48, P49, P50]

LEFT_TICKS = list(range(-30, 50, 5))
RIGHT_TICKS = list(range(0, 80, 5))

for n, row in enumerate(TEMP_MEMBERS):
    assert len(row) == 61, ("temp", n + 1, len(row))
for n, row in enumerate(PRECIP_MEMBERS):
    assert len(row) == 60, ("precip", n + 1, len(row))

# ---------------- figure ----------------
times = pd.date_range(DATE_LABELS_START, periods=61, freq="6h")
ptimes = times[1:]

W, H = 740, 700
L, R, T, B = 50, 50, 0, 100
PW, PH = W - L - R, H - T - B


def px(xp):
    return (xp - L) / PW


def py(yp):
    return (T + PH - yp) / PH


MONO = "DejaVu Sans Mono"
SANS = "Liberation Sans"

fig = go.Figure()

for k, row in enumerate(TEMP_MEMBERS):
    c = MEMBER_COLORS[k]
    fig.add_trace(go.Scatter(
        x=times, y=row, mode="lines+markers",
        line=dict(color=c, width=1),
        marker=dict(symbol="cross-thin", size=5, line=dict(color=c, width=1)),
        hoverinfo="skip", showlegend=False))

fig.add_trace(go.Scatter(
    x=times, y=TEMP_CTRL, mode="lines+markers",
    line=dict(color="black", width=3),
    marker=dict(symbol="cross-thin", size=6, line=dict(color="black", width=1.5)),
    hoverinfo="skip", showlegend=False))
fig.add_trace(go.Scatter(
    x=times, y=TEMP_MEAN, mode="lines",
    line=dict(color="#ff0000", width=4),
    hoverinfo="skip", showlegend=False))

for k, row in enumerate(PRECIP_MEMBERS):
    c = MEMBER_COLORS[k]
    fig.add_trace(go.Scatter(
        x=ptimes, y=row, yaxis="y2", mode="lines+markers",
        line=dict(color=c, width=1),
        marker=dict(symbol="cross-thin", size=5, line=dict(color=c, width=1)),
        hoverinfo="skip", showlegend=False))

fig.add_trace(go.Scatter(
    x=ptimes, y=PRECIP_CTRL, yaxis="y2", mode="lines",
    line=dict(color="black", width=3),
    hoverinfo="skip", showlegend=False))
fig.add_trace(go.Scatter(
    x=ptimes, y=PRECIP_MEAN, yaxis="y2", mode="lines",
    line=dict(color="#ff0000", width=4),
    hoverinfo="skip", showlegend=False))

# y ranges: temp 0 at pixel 336, 6.98 px/degree; precip 0 aligned with temp -30
SCALE = 6.98
y_top = (336 - T) / SCALE
y_bot = -(T + PH - 336) / SCALE

shapes = []
for v in LEFT_TICKS:
    if v == 0:
        shapes.append(dict(type="line", xref="paper", yref="y", x0=0, x1=1, y0=v, y1=v,
                           line=dict(color="#c8c8c8", width=3), layer="below"))
        shapes.append(dict(type="line", xref="paper", yref="y", x0=0, x1=1, y0=v, y1=v,
                           line=dict(color="#8c8c8c", width=1.5), layer="below"))
    elif v % 10 == 0:
        shapes.append(dict(type="line", xref="paper", yref="y", x0=0, x1=1, y0=v, y1=v,
                           line=dict(color="#c0c0c0", width=2), layer="below"))
    else:
        shapes.append(dict(type="line", xref="paper", yref="y", x0=0, x1=1, y0=v, y1=v,
                           line=dict(color="#c4c4c4", width=1), layer="below"))

# legend bars
shapes.append(dict(type="line", xref="paper", yref="paper", x0=px(36), x1=px(66), y0=py(638), y1=py(638),
                   line=dict(color="#ff0000", width=4)))
shapes.append(dict(type="line", xref="paper", yref="paper", x0=px(227), x1=px(258), y0=py(638), y1=py(638),
                   line=dict(color="black", width=4)))

# member swatches
SW_X0, SW_PITCH, SW_W = 430.0, 11.36, 10.6
for k in range(25):
    x0 = SW_X0 + k * SW_PITCH
    shapes.append(dict(type="rect", xref="paper", yref="paper", x0=px(x0), x1=px(x0 + SW_W),
                       y0=py(645), y1=py(651), line=dict(width=0), fillcolor=MEMBER_COLORS[k]))
    shapes.append(dict(type="rect", xref="paper", yref="paper", x0=px(x0), x1=px(x0 + SW_W),
                       y0=py(651), y1=py(657.5), line=dict(width=0), fillcolor=MEMBER_COLORS[k + 25]))

# title box
shapes.append(dict(type="rect", xref="paper", yref="paper", x0=px(20), x1=px(443), y0=py(668), y1=py(698.5),
                   line=dict(color="black", width=1), fillcolor="rgba(0,0,0,0)"))

annotations = []


def add_text(text, xp, yp, size, family=MONO, xanchor="left", bold=False, color="black"):
    if bold:
        text = "<b>" + text + "</b>"
    annotations.append(dict(text=text, xref="paper", yref="paper", x=px(xp), y=py(yp),
                            xanchor=xanchor, yanchor="middle", showarrow=False,
                            font=dict(family=family, size=size, color=color), borderpad=0))


for v in LEFT_TICKS:
    annotations.append(dict(text=str(v), xref="paper", yref="y", x=px(20), y=v, xanchor="left",
                            yanchor="middle", showarrow=False, borderpad=0,
                            font=dict(family=SANS, size=11, color="black")))

add_text("Temp. 2m", 59, 270, 10)
add_text("Précipitations", 59, 424, 10)
add_text("(°C)", 19, 606, 10)
add_text("(mm)", 701, 606, 10)
add_text("Moyenne des scénarios", 74, 638, 10)
add_text("Contrôle/Det", 264, 638, 10)
add_text("50 Perts.", 369, 652, 10)
for k in range(25):
    cx = SW_X0 + k * SW_PITCH + SW_W / 2
    add_text("%02d" % (k + 1), cx, 639, 7.5, xanchor="center", bold=True)
    add_text("%02d" % (k + 26), cx, 663.5, 7.5, xanchor="center", bold=True)

add_text("Diagramme ensembles ECMWF/CEP 0.25° sur 360h pour Veliko Turnovo", 29, 677, 11.5, bold=True)
add_text("Températures 2m (°C) , précipitations (mm)", 29, 691, 9.8)
add_text("Ensemble ECMWF/CEP du 18/02/2026 - 00Z", 451, 676, 10.2)
add_text("Copyright 2026 Meteociel.fr - ECMWF", 451, 691.5, 11.6, bold=True)

fig.update_layout(
    width=W, height=H,
    margin=dict(l=L, r=R, t=T, b=B, pad=0),
    paper_bgcolor="white", plot_bgcolor="white",
    showlegend=False,
    shapes=shapes,
    annotations=annotations,
    xaxis=dict(
        type="date",
        range=[times[0], DATE_END],
        tick0=DATE_LABELS_START, dtick=86400000,
        tickformat="%d/%m", tickangle=-90,
        tickfont=dict(family=MONO, size=9.5, color="black"),
        ticks="outside", ticklen=3, tickcolor="#c0c0c0",
        ticklabelshift=7, ticklabelstandoff=0,
        showgrid=True, gridcolor="#c0c0c0", gridwidth=1,
        showline=True, linecolor="#b8b8b8", linewidth=2,
        zeroline=False, fixedrange=True,
    ),
    yaxis=dict(
        range=[y_bot, y_top],
        showgrid=False, zeroline=False, showticklabels=False, ticks="",
        showline=False, fixedrange=True,
    ),
    yaxis2=dict(
        range=[y_bot + 30, y_top + 30],
        overlaying="y", side="right",
        tickvals=RIGHT_TICKS,
        tickfont=dict(family=SANS, size=11, color="black"),
        ticks="", ticklabelstandoff=15,
        showgrid=False, zeroline=False, showline=False, fixedrange=True,
    ),
)

fig.write_html("out.html", post_script="document.body.style.margin='0px';",
               config={"displayModeBar": False})
